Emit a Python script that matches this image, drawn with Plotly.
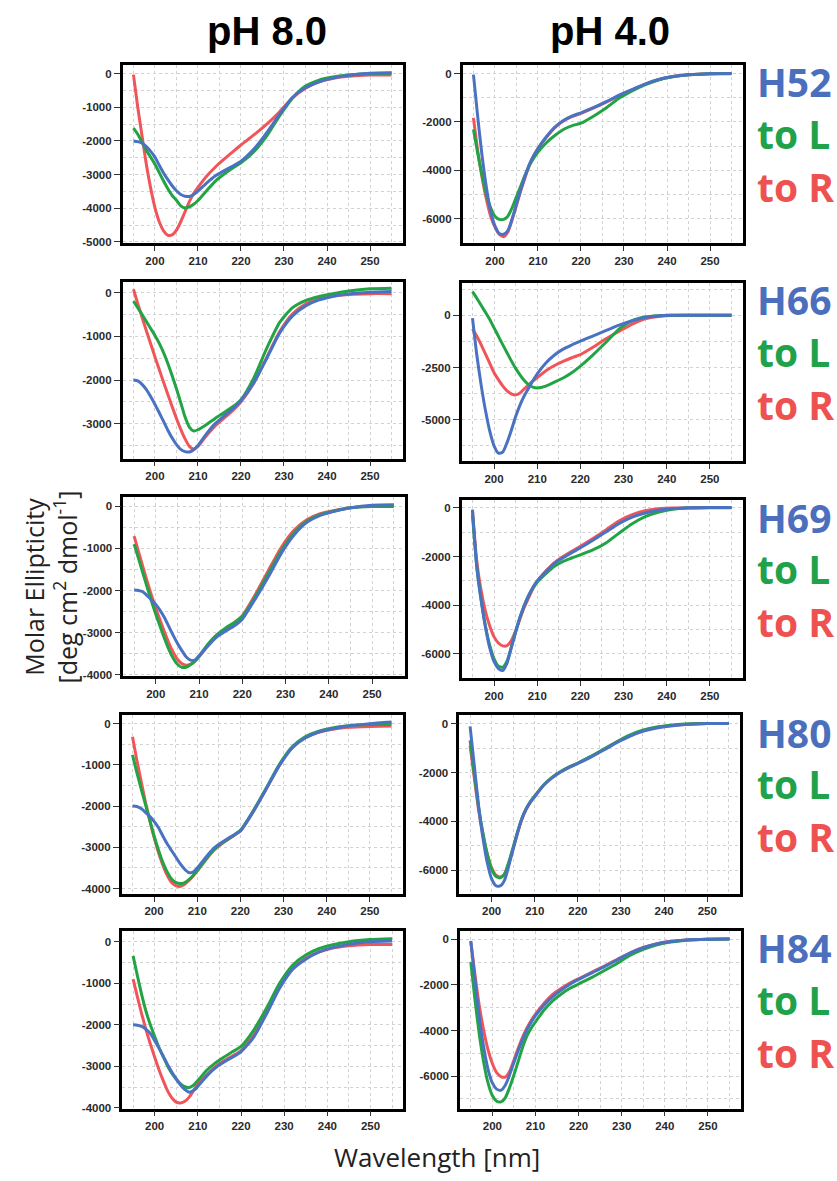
import plotly.graph_objects as go

# Wavelength grid (nm) shared by every spectrum
wavelength = [195, 196, 197, 198, 199, 200, 201, 202, 203, 204, 205, 206, 207, 208, 209, 210,
              212, 214, 216, 218, 220, 223, 226, 229, 232, 235, 238, 241, 245, 250, 255]

# ---- pH 8.0 spectra (deg cm2 dmol-1) ----
ph8_h52 = [-2000, -2020, -2060, -2170, -2310, -2480, -2720, -2950, -3150, -3330, -3480, -3590, -3640, -3650, -3590, -3490,
           -3250, -3040, -2890, -2750, -2600, -2240, -1750, -1200, -700, -420, -250, -140, -50, 15, 25]
ph8_h52_L = [-1620, -1800, -2040, -2280, -2480, -2690, -2940, -3190, -3420, -3620, -3760, -3930, -3990, -3960, -3880, -3770,
             -3480, -3200, -2990, -2810, -2650, -2320, -1850, -1250, -720, -370, -200, -110, -40, 0, 10]
ph8_h52_R = [-30, -1000, -1850, -2700, -3400, -3980, -4400, -4670, -4800, -4790, -4650, -4400, -4100, -3800, -3560, -3380,
             -3050, -2780, -2550, -2330, -2120, -1820, -1500, -1130, -720, -430, -250, -150, -80, -40, -40]

ph8_h66 = [-2000, -2020, -2100, -2220, -2380, -2560, -2750, -2950, -3150, -3330, -3480, -3590, -3640, -3650, -3600, -3500,
           -3230, -3000, -2830, -2670, -2470, -2060, -1500, -920, -530, -300, -170, -90, -30, 10, 30]
ph8_h66_L = [-190, -340, -500, -660, -820, -980, -1160, -1370, -1620, -1900, -2200, -2520, -2850, -3080, -3170, -3140,
             -3020, -2880, -2750, -2620, -2450, -1950, -1270, -680, -340, -180, -90, -30, 40, 90, 105]
ph8_h66_R = [80, -250, -560, -870, -1170, -1470, -1760, -2050, -2330, -2610, -2880, -3130, -3350, -3520, -3580, -3520,
             -3270, -3050, -2880, -2710, -2500, -2070, -1480, -890, -480, -260, -140, -80, -40, -20, -20]

ph8_h69 = [-1990, -2000, -2030, -2120, -2220, -2330, -2470, -2640, -2850, -3060, -3250, -3420, -3570, -3650, -3650, -3550,
           -3320, -3110, -2970, -2850, -2680, -2200, -1680, -1120, -680, -380, -220, -130, -40, 20, 30]
ph8_h69_L = [-900, -1240, -1580, -1920, -2250, -2560, -2850, -3130, -3390, -3600, -3750, -3820, -3820, -3760, -3680, -3560,
             -3280, -3060, -2900, -2770, -2620, -2150, -1600, -1060, -630, -350, -200, -120, -40, -10, -10]
ph8_h69_R = [-710, -1080, -1430, -1780, -2110, -2420, -2700, -2980, -3240, -3460, -3630, -3730, -3770, -3750, -3680, -3570,
             -3310, -3080, -2930, -2780, -2600, -2100, -1530, -980, -570, -320, -180, -110, -40, 0, 10]

ph8_h80 = [-2000, -2010, -2060, -2150, -2250, -2370, -2520, -2720, -2910, -3070, -3230, -3390, -3520, -3610, -3600, -3500,
           -3240, -3010, -2860, -2730, -2600, -2130, -1580, -1020, -590, -350, -210, -130, -60, 0, 40]
ph8_h80_L = [-760, -1180, -1580, -1960, -2340, -2720, -3060, -3360, -3590, -3760, -3850, -3880, -3860, -3790, -3690, -3570,
             -3290, -3040, -2880, -2740, -2590, -2110, -1560, -990, -560, -320, -190, -110, -50, -20, -15]
ph8_h80_R = [-320, -880, -1400, -1900, -2350, -2760, -3120, -3420, -3670, -3850, -3930, -3950, -3900, -3810, -3700, -3570,
             -3300, -3060, -2890, -2750, -2600, -2130, -1580, -1020, -580, -340, -210, -140, -90, -70, -60]

ph8_h84 = [-2000, -2010, -2040, -2110, -2210, -2380, -2560, -2760, -2960, -3140, -3300, -3450, -3560, -3620, -3580, -3480,
           -3240, -3040, -2900, -2780, -2650, -2290, -1720, -1110, -660, -420, -250, -150, -60, 0, 15]
ph8_h84_L = [-340, -820, -1280, -1680, -2000, -2280, -2550, -2770, -2990, -3170, -3310, -3420, -3490, -3510, -3450, -3340,
             -3100, -2920, -2780, -2650, -2520, -2120, -1580, -990, -560, -320, -170, -80, 0, 50, 70]
ph8_h84_R = [-900, -1330, -1740, -2120, -2460, -2780, -3080, -3350, -3590, -3760, -3860, -3880, -3840, -3740, -3580, -3420,
             -3200, -3010, -2870, -2750, -2620, -2240, -1670, -1070, -640, -400, -250, -160, -100, -70, -65]

# ---- pH 4.0 spectra ----
ph4_h52 = [-40, -1800, -3400, -4700, -5700, -6300, -6620, -6650, -6500, -6000, -5400, -4800, -4250, -3750, -3400, -3100,
           -2600, -2200, -1930, -1750, -1620, -1400, -1150, -880, -650, -420, -240, -130, -50, 0, 10]
ph4_h52_L = [-2310, -3300, -4200, -5000, -5550, -5900, -6030, -6030, -5900, -5550, -5100, -4650, -4200, -3800, -3500, -3250,
             -2850, -2550, -2300, -2150, -2050, -1750, -1400, -1000, -700, -450, -260, -140, -50, 0, 10]
ph4_h52_R = [-1830, -3200, -4300, -5200, -5900, -6350, -6650, -6750, -6550, -6050, -5450, -4850, -4300, -3800, -3400, -3100,
             -2620, -2220, -1950, -1770, -1640, -1420, -1170, -900, -660, -430, -250, -130, -50, 0, 0]

ph4_h66 = [-130, -1900, -3330, -4550, -5550, -6250, -6600, -6550, -6100, -5500, -4850, -4300, -3850, -3490, -3130, -2800,
           -2280, -1900, -1620, -1420, -1240, -980, -720, -470, -260, -100, -30, 0, 0, 0, 0]
ph4_h66_L = [1140, 820, 480, 150, -200, -600, -1000, -1400, -1790, -2180, -2540, -2850, -3120, -3320, -3440, -3480,
             -3390, -3200, -3000, -2750, -2430, -1880, -1270, -650, -250, -80, -20, 0, 0, 0, 0]
ph4_h66_R = [-640, -1000, -1400, -1850, -2300, -2750, -3080, -3380, -3620, -3760, -3810, -3720, -3520, -3330, -3140, -2980,
             -2650, -2400, -2200, -2030, -1880, -1520, -1110, -760, -420, -170, -50, -10, 0, 0, 0]

ph4_h69 = [-70, -2450, -3800, -4900, -5750, -6320, -6600, -6680, -6380, -5750, -5100, -4500, -4000, -3600, -3260, -3000,
           -2620, -2270, -2050, -1840, -1640, -1320, -980, -640, -380, -210, -100, -40, 0, 10, 10]
ph4_h69_L = [-300, -2400, -3750, -4850, -5650, -6200, -6500, -6550, -6300, -5700, -5080, -4500, -4020, -3620, -3300, -3050,
             -2700, -2400, -2200, -2060, -1930, -1720, -1430, -1030, -650, -360, -180, -70, -10, 0, 0]
ph4_h69_R = [-130, -2200, -3400, -4250, -4850, -5300, -5550, -5670, -5660, -5450, -5050, -4560, -4080, -3700, -3320, -3020,
             -2600, -2250, -2000, -1780, -1580, -1250, -900, -530, -280, -120, -40, -10, 0, 10, 10]

ph4_h80 = [-110, -1750, -3400, -4700, -5700, -6350, -6630, -6640, -6400, -5800, -5130, -4470, -3900, -3500, -3200, -2980,
           -2530, -2220, -1980, -1790, -1630, -1370, -1080, -780, -520, -320, -190, -110, -40, 0, 0]
ph4_h80_L = [-680, -2100, -3450, -4500, -5350, -5950, -6250, -6310, -6150, -5650, -5050, -4430, -3880, -3480, -3190, -2960,
             -2520, -2200, -1960, -1770, -1610, -1340, -1040, -740, -470, -270, -150, -80, -20, 0, 0]
ph4_h80_R = [-900, -2250, -3550, -4550, -5350, -5900, -6200, -6270, -6150, -5700, -5100, -4480, -3920, -3510, -3210, -2970,
             -2530, -2210, -1970, -1780, -1620, -1350, -1060, -760, -500, -300, -170, -90, -30, 0, 0]

ph4_h84 = [-70, -1800, -3450, -4750, -5700, -6300, -6570, -6620, -6400, -5950, -5400, -4880, -4400, -3980, -3640, -3350,
           -2880, -2510, -2220, -1970, -1760, -1480, -1200, -900, -600, -370, -210, -110, -30, 0, 10]
ph4_h84_L = [-1000, -2700, -4200, -5400, -6300, -6850, -7100, -7130, -6950, -6500, -5950, -5350, -4750, -4250, -3900, -3620,
             -3100, -2700, -2400, -2150, -1960, -1680, -1370, -1050, -700, -440, -250, -130, -40, 0, 10]
ph4_h84_R = [-100, -1600, -2950, -4000, -4850, -5450, -5850, -6020, -6040, -5800, -5300, -4780, -4300, -3900, -3560, -3280,
             -2800, -2420, -2150, -1920, -1730, -1450, -1170, -880, -590, -360, -200, -100, -30, 0, 10]

mutant_names = ["H52", "H66", "H69", "H80", "H84"]
column_titles = ["pH 8.0", "pH 4.0"]
x_ticks = [200, 210, 220, 230, 240, 250]

# (to R, to L, wild-type) per row and column, in drawing order
spectra = [
    [(ph8_h52_R, ph8_h52_L, ph8_h52), (ph4_h52_R, ph4_h52_L, ph4_h52)],
    [(ph8_h66_R, ph8_h66_L, ph8_h66), (ph4_h66_R, ph4_h66_L, ph4_h66)],
    [(ph8_h69_R, ph8_h69_L, ph8_h69), (ph4_h69_R, ph4_h69_L, ph4_h69)],
    [(ph8_h80_R, ph8_h80_L, ph8_h80), (ph4_h80_R, ph4_h80_L, ph4_h80)],
    [(ph8_h84_R, ph8_h84_L, ph8_h84), (ph4_h84_R, ph4_h84_L, ph4_h84)],
]

# y ranges and tick steps per panel
y_ranges = [
    [(-5030, 265, 1000), (-7030, 370, 2000)],
    [(-3800, 258, 1000), (-6994, 1560, 2500)],
    [(-4038, 212, 1000), (-6994, 315, 2000)],
    [(-4130, 203, 1000), (-6965, 342, 2000)],
    [(-4015, 256, 1000), (-7424, 362, 2000)],
]

# panel frames in page pixels: (left, right, top, bottom)
frames = [
    [(122.7, 402.7, 65, 244), (462.7, 742.7, 65, 244.5)],
    [(122.7, 402.7, 282.7, 460.5), (461.7, 742.7, 284, 463.3)],
    [(123.3, 405, 499.3, 679.3), (461.7, 742.7, 502.3, 681)],
    [(121.7, 402.7, 718.3, 897.7), (459.3, 740, 718.3, 897.7)],
    [(122.3, 403.3, 935, 1113.3), (460, 740.7, 935, 1113.3)],
]

W, H = 837, 1181
BLUE, GREEN, RED = "#4a72c2", "#22a444", "#f0555a"
TXT_BLUE, TXT_GREEN, TXT_RED = "#4b6fbd", "#1fa24a", "#ee5250"
GRID = "#d2d2d2"

fig = go.Figure()
layout = dict(width=W, height=H, margin=dict(l=0, r=0, t=0, b=0),
              paper_bgcolor="white", plot_bgcolor="white", showlegend=False)
annotations = []

tickfont = dict(family="Liberation Sans, Arial, sans-serif", size=11.5, color="#2a2a2a", weight="bold")

k = 0
for r in range(5):
    for c in range(2):
        k += 1
        xa = "x" if k == 1 else f"x{k}"
        ya = "y" if k == 1 else f"y{k}"
        left, right, top, bottom = frames[r][c]
        ymin, ymax, step = y_ranges[r][c]

        yt = []
        v = 0
        while v >= ymin:
            yt.append(v)
            v -= step
        v = step
        while v <= ymax:
            yt.insert(0, v)
            v += step
        ym = []
        v = step / 2
        while v <= ymax:
            ym.append(v)
            v += step
        v = -step / 2
        while v >= ymin:
            ym.append(v)
            v -= step

        for vals, col in zip(spectra[r][c], (RED, GREEN, BLUE)):
            fig.add_trace(go.Scatter(x=wavelength, y=vals, mode="lines", xaxis=xa, yaxis=ya,
                                     line=dict(color=col, width=3, shape="spline", smoothing=0.6),
                                     hoverinfo="skip"))

        layout["xaxis" if k == 1 else f"xaxis{k}"] = dict(
            domain=[left / W, right / W], anchor=ya, range=[192.5, 257.6],
            tickmode="array", tickvals=x_ticks, ticktext=[str(t) for t in x_ticks],
            ticks="outside", ticklen=5, tickwidth=1.2, tickcolor="#333",
            tickfont=tickfont, showline=True, mirror=True, linecolor="black", linewidth=2.5,
            showgrid=True, gridcolor=GRID, griddash="dot", gridwidth=1,
            minor=dict(tickvals=[195, 205, 215, 225, 235, 245, 255], showgrid=True,
                       gridcolor=GRID, griddash="dot", ticks=""),
            zeroline=False, fixedrange=True)
        layout["yaxis" if k == 1 else f"yaxis{k}"] = dict(
            domain=[1 - bottom / H, 1 - top / H], anchor=xa, range=[ymin, ymax],
            tickmode="array", tickvals=yt, ticktext=[str(int(t)) for t in yt],
            ticks="outside", ticklen=6, tickwidth=1.2, tickcolor="#333",
            tickfont=tickfont, showline=True, mirror=True, linecolor="black", linewidth=2.5,
            showgrid=True, gridcolor=GRID, griddash="dot", gridwidth=1,
            minor=dict(tickvals=ym, showgrid=True, gridcolor=GRID, griddash="dot", ticks=""),
            zeroline=False, fixedrange=True)

    # mutant labels to the right of the pH 4.0 panel
    top = frames[r][1][2]
    for txt, col, dy in ((mutant_names[r], TXT_BLUE, 31), ("to L", TXT_GREEN, 83), ("to R", TXT_RED, 136)):
        annotations.append(dict(text=txt, x=755 / W, y=1 - (top + dy - 14) / H, xref="paper", yref="paper",
                                xanchor="left", yanchor="middle", showarrow=False,
                                font=dict(family="Open Sans, sans-serif", size=39, color=col, weight="bold")))

# column headers
for txt, cx in zip(column_titles, (267, 610)):
    annotations.append(dict(text=txt, x=cx / W, y=1 - 31 / H, xref="paper", yref="paper",
                            xanchor="center", yanchor="middle", showarrow=False,
                            font=dict(family="Liberation Sans Narrow, Arial Narrow, Liberation Sans, sans-serif",
                                      size=40, color="black", weight="bold")))

# shared axis titles
annotations.append(dict(text="Molar Ellipticity<br>[deg cm<sup>2</sup> dmol<sup>-1</sup>]",
                        x=51 / W, y=1 - 590 / H, xref="paper", yref="paper", textangle=-90,
                        xanchor="center", yanchor="middle", showarrow=False,
                        font=dict(family="Open Sans, sans-serif", size=25, color="#222")))
annotations.append(dict(text="Wavelength [nm]", x=437 / W, y=1 - 1162 / H, xref="paper", yref="paper",
                        xanchor="center", yanchor="middle", showarrow=False,
                        font=dict(family="Open Sans, sans-serif", size=26, color="#222")))

layout["annotations"] = annotations
fig.update_layout(**layout)
fig.write_html("out.html")
